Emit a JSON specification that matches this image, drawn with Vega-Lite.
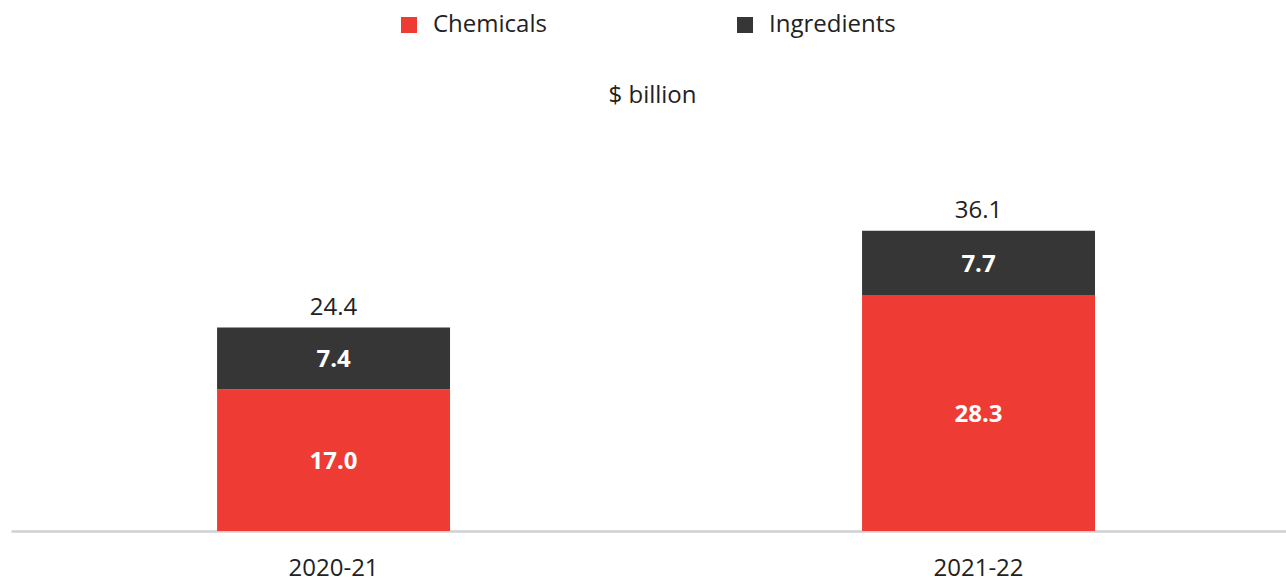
{
  "$schema": "https://vega.github.io/schema/vega-lite/v6.json",
  "autosize": {"type": "none"},
  "width": 1275,
  "height": 392,
  "padding": {"left": 11, "top": 139, "right": 0, "bottom": 49},
  "background": "white",
  "config": {
    "view": {"stroke": null},
    "font": "Open Sans",
    "text": {"font": "Open Sans"}
  },
  "datasets": {
    "parts": [
      {"year": "2020-21", "type": "Chemicals", "value": 17.0},
      {"year": "2020-21", "type": "Ingredients", "value": 7.4},
      {"year": "2021-22", "type": "Chemicals", "value": 28.3},
      {"year": "2021-22", "type": "Ingredients", "value": 7.7}
    ],
    "totals": [
      {"year": "2020-21", "total": 24.4},
      {"year": "2021-22", "total": 36.1}
    ]
  },
  "data": {"name": "parts"},
  "encoding": {
    "x": {
      "field": "year",
      "type": "nominal",
      "scale": {"paddingInner": 0.6388, "paddingOuter": 0.3078, "align": 0.519},
      "axis": {
        "title": null,
        "labelAngle": 0,
        "labelFontSize": 24,
        "labelColor": "#222222",
        "labelFont": "Open Sans",
        "labelPadding": 25,
        "ticks": false,
        "domainColor": "#d0d0d0",
        "domainWidth": 2.5,
        "grid": false
      }
    }
  },
  "layer": [
    {
      "mark": {"type": "bar"},
      "encoding": {
        "y": {
          "field": "value",
          "type": "quantitative",
          "stack": "zero",
          "scale": {"domain": [0, 47], "nice": false},
          "axis": {
            "title": "$ billion",
            "titleAngle": 0,
            "titleX": 641,
            "titleY": -44,
            "titleAlign": "center",
            "titleBaseline": "middle",
            "titleFontSize": 24,
            "titleFontWeight": "normal",
            "titleFont": "Open Sans",
            "titleColor": "#222222",
            "labels": false,
            "ticks": false,
            "domain": false,
            "grid": false
          }
        },
        "color": {
          "field": "type",
          "type": "nominal",
          "scale": {"domain": ["Chemicals", "Ingredients"], "range": ["#ee3b33", "#363636"]},
          "legend": {
            "title": null,
            "orient": "none",
            "direction": "horizontal",
            "legendX": 386,
            "legendY": -126,
            "symbolType": "square",
            "symbolSize": 256,
            "symbolStrokeWidth": 0,
            "labelFontSize": 24,
            "labelFont": "Open Sans",
            "labelColor": "#222222",
            "labelOffset": 12,
            "columnPadding": 186
          }
        },
        "order": {"field": "type", "sort": "ascending"}
      }
    },
    {
      "mark": {"type": "text", "color": "white", "fontWeight": "bold", "fontSize": 24, "baseline": "middle", "dy": 2},
      "encoding": {
        "y": {"field": "value", "type": "quantitative", "stack": "zero", "bandPosition": 0.5},
        "detail": {"field": "type"},
        "order": {"field": "type", "sort": "ascending"},
        "text": {"field": "value", "type": "quantitative", "format": ".1f"}
      }
    },
    {
      "data": {"name": "totals"},
      "mark": {"type": "text", "color": "#222222", "fontSize": 24, "baseline": "bottom", "dy": -7},
      "encoding": {
        "y": {"field": "total", "type": "quantitative"},
        "text": {"field": "total", "type": "quantitative", "format": ".1f"}
      }
    }
  ]
}
